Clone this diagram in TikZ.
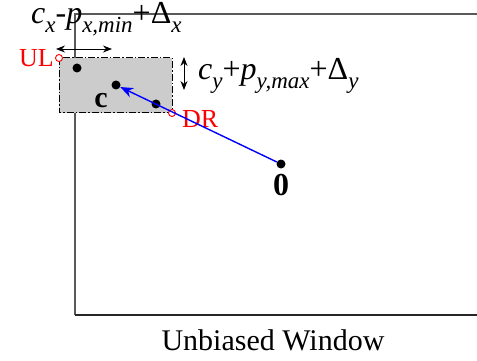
\documentclass[tikz,border=0pt]{standalone}
\usepackage{fontspec}
\setmainfont{Liberation Serif}
\usetikzlibrary{arrows.meta}
\tikzset{
  dot/.style={circle, fill=black, inner sep=0pt, minimum size=9pt},
  corner/.style={circle, draw=red, fill=white, inner sep=0pt, minimum size=7pt, line width=0.9pt},
  redlabel/.style={text=red, font=\fontsize{26}{28}\selectfont, inner sep=1pt},
  mathlabel/.style={font=\fontsize{32}{34}\selectfont, inner sep=0pt},
  dimarrow/.style={{Stealth[length=9pt,width=7pt]}-{Stealth[length=9pt,width=7pt]}, line width=0.9pt, black}
}
\newcommand{\sub}[1]{\raisebox{-9pt}{\fontsize{23}{23}\selectfont\itshape #1}}
\begin{document}
\begin{tikzpicture}[x=1pt, y=-1pt]
  \useasboundingbox (0,0) rectangle (477,361);
  % window frame
  \draw[black!65, line width=1.4pt] (75,315) -- (75,14) -- (477,14);
  \draw[black!85, line width=1.4pt] (75,315) -- (477,315);
  \node[font=\fontsize{30}{32}\selectfont, anchor=base] (title) at (273,350) {Unbiased Window};

  % search box
  \draw[fill=black!20, dash pattern=on 7pt off 2pt on 1.5pt off 2pt, line width=1pt] (59,58) rectangle (172,113);
  \node[corner] (ul) at (59,58) {};
  \node[corner] (dr) at (172,113) {};
  \node[redlabel, anchor=east] (ullab) at (ul.west) {UL};
  \node[redlabel, anchor=north west] (drlab) at (181,109) {DR};

  \node[dot] (p1) at (77,68) {};
  \node[dot] (c) at (116,85) {};
  \node[dot] (p2) at (156,104) {};
  \node[dot] (o) at (281,164) {};
  \node[font=\fontsize{30}{32}\selectfont\bfseries, anchor=base] (clab) at (101,107) {c};
  \node[font=\fontsize{32}{34}\selectfont\bfseries, anchor=base] (olab) at (281,195) {0};
  \draw[-{Stealth[length=13pt, width=10pt]}, blue, line width=1.4pt] (o) -- (c);

  % extents
  \coordinate (hl) at (56,49);
  \coordinate (hr) at (112,49);
  \draw[dimarrow] (hl) -- (hr);
  \coordinate (vt) at (184,57);
  \coordinate (vb) at (184,90);
  \draw[dimarrow] (vt) -- (vb);
  \node[mathlabel, anchor=base west] (xlab) at (31,24)
    {\textit{c}\sub{x}-\textit{p}\sub{x,min}+Δ\sub{x}};
  \node[mathlabel, anchor=base west] (ylab) at (198,80)
    {\textit{c}\sub{y}+\textit{p}\sub{y,max}+Δ\sub{y}};
\end{tikzpicture}
\end{document}
